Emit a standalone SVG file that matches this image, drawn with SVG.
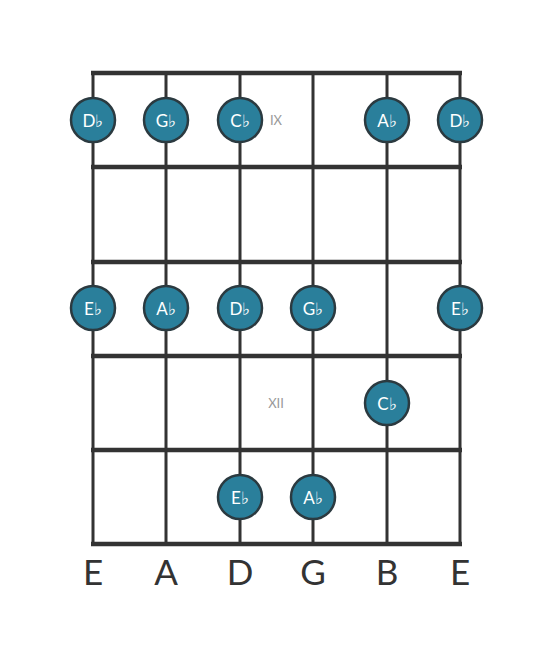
<svg xmlns="http://www.w3.org/2000/svg" width="553" height="656" viewBox="0 0 553 656">
<style>
.str{stroke:#333;stroke-width:3}
.fret{stroke:#333;stroke-width:4.5}
.n circle{fill:#2a7f9b;stroke:#2b3a40;stroke-width:2.5}
.n text{fill:#fff;font-family:Lato,"Open Sans",sans-serif;font-size:17px;text-anchor:middle;dominant-baseline:central}
.pos{fill:#999;font-family:Lato,"Open Sans",sans-serif;font-size:13px;text-anchor:middle;dominant-baseline:central}
.lbl{fill:#333;font-family:Lato,"Open Sans",sans-serif;font-size:35px;text-anchor:middle}
</style>
<rect width="553" height="656" fill="#fff"/>
<g id="connectors">
<line class="str" x1="93" y1="73" x2="93" y2="544"/>
<line class="str" x1="166" y1="73" x2="166" y2="544"/>
<line class="str" x1="240" y1="73" x2="240" y2="544"/>
<line class="str" x1="313" y1="73" x2="313" y2="544"/>
<line class="str" x1="387" y1="73" x2="387" y2="544"/>
<line class="str" x1="460" y1="73" x2="460" y2="544"/>
<line class="fret" x1="91" y1="73" x2="462" y2="73"/>
<line class="fret" x1="91" y1="167" x2="462" y2="167"/>
<line class="fret" x1="91" y1="262" x2="462" y2="262"/>
<line class="fret" x1="91" y1="356" x2="462" y2="356"/>
<line class="fret" x1="91" y1="450" x2="462" y2="450"/>
<line class="fret" x1="91" y1="544" x2="462" y2="544"/>
</g>
<text class="pos" x="276" y="120">IX</text>
<text class="pos" x="276" y="403">XII</text>
<g id="n1" class="n"><circle cx="93" cy="120" r="22"/><text x="93" y="120">D♭</text></g>
<g id="n2" class="n"><circle cx="166" cy="120" r="22"/><text x="166" y="120">G♭</text></g>
<g id="n3" class="n"><circle cx="240" cy="120" r="22"/><text x="240" y="120">C♭</text></g>
<g id="n4" class="n"><circle cx="387" cy="120" r="22"/><text x="387" y="120">A♭</text></g>
<g id="n5" class="n"><circle cx="460" cy="120" r="22"/><text x="460" y="120">D♭</text></g>
<g id="n6" class="n"><circle cx="93" cy="308" r="22"/><text x="93" y="308">E♭</text></g>
<g id="n7" class="n"><circle cx="166" cy="308" r="22"/><text x="166" y="308">A♭</text></g>
<g id="n8" class="n"><circle cx="240" cy="308" r="22"/><text x="240" y="308">D♭</text></g>
<g id="n9" class="n"><circle cx="313" cy="308" r="22"/><text x="313" y="308">G♭</text></g>
<g id="n10" class="n"><circle cx="460" cy="308" r="22"/><text x="460" y="308">E♭</text></g>
<g id="n11" class="n"><circle cx="387" cy="403" r="22"/><text x="387" y="403">C♭</text></g>
<g id="n12" class="n"><circle cx="240" cy="497" r="22"/><text x="240" y="497">E♭</text></g>
<g id="n13" class="n"><circle cx="313" cy="497" r="22"/><text x="313" y="497">A♭</text></g>
<g id="labels">
<text class="lbl" x="93" y="585">E</text>
<text class="lbl" x="166" y="585">A</text>
<text class="lbl" x="240" y="585">D</text>
<text class="lbl" x="313" y="585">G</text>
<text class="lbl" x="387" y="585">B</text>
<text class="lbl" x="460" y="585">E</text>
</g>
</svg>
